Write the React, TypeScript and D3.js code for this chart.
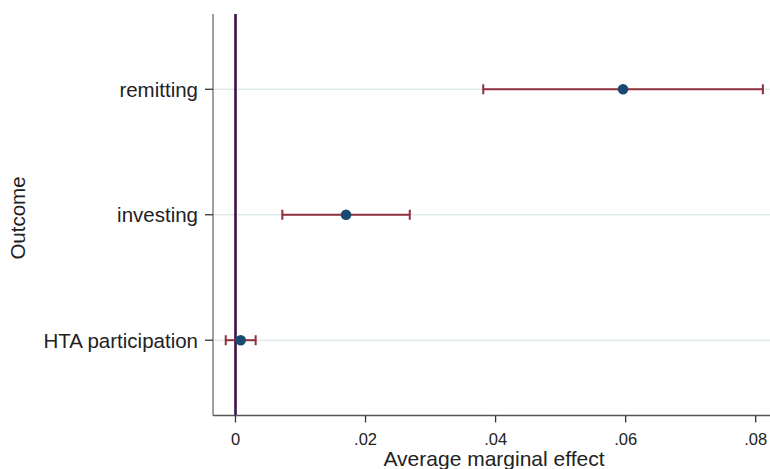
import React from "react";
import * as d3 from "d3";

const outcomes = ["HTA participation", "investing", "remitting"];
const estimates = [0.0008, 0.0170, 0.0596];
const lower = [-0.0015, 0.0072, 0.0381];
const upper = [0.0031, 0.0268, 0.0811];
const xTicks = [0, 0.02, 0.04, 0.06, 0.08];
const xTickLabels = ["0", ".02", ".04", ".06", ".08"];

const W = 770, H = 469;
const left = 213, right = 770, top = 14, bottom = 415.5;

export default function App() {
  const x = d3.scaleLinear().domain([-0.00346, 0.0822]).range([left, right]);
  const y = d3.scaleLinear().domain([0.4, 3.6]).range([bottom, top]);
  const font = "'Liberation Sans', Arial, Helvetica, sans-serif";
  const ciColor = "#8e2f3b";
  const ptColor = "#1a4a72";
  return (
    <svg width={W} height={H} style={{ position: "absolute", left: 0, top: 0, fontFamily: font }}>
      <rect x={0} y={0} width={W} height={H} fill="#ffffff" />
      {outcomes.map((o, i) => (
        <line key={"g" + o} x1={left} x2={right} y1={y(i + 1)} y2={y(i + 1)} stroke="#dfe9eb" strokeWidth={1.5} />
      ))}
      <line x1={x(0)} x2={x(0)} y1={top} y2={bottom} stroke="#3b1246" strokeWidth={2.6} />
      {outcomes.map((o, i) => {
        const cy = y(i + 1);
        return (
          <g key={o}>
            <line x1={x(lower[i])} x2={x(upper[i])} y1={cy} y2={cy} stroke={ciColor} strokeWidth={2} />
            <line x1={x(lower[i])} x2={x(lower[i])} y1={cy - 5} y2={cy + 5} stroke={ciColor} strokeWidth={2} />
            <line x1={x(upper[i])} x2={x(upper[i])} y1={cy - 5} y2={cy + 5} stroke={ciColor} strokeWidth={2} />
            <circle cx={x(estimates[i])} cy={cy} r={5.3} fill={ptColor} />
          </g>
        );
      })}
      <line x1={left} x2={left} y1={top} y2={bottom} stroke="#6e6e6e" strokeWidth={1.3} />
      <line x1={left} x2={right} y1={bottom} y2={bottom} stroke="#555555" strokeWidth={1.3} />
      {outcomes.map((o, i) => (
        <g key={"t" + o}>
          <line x1={left - 8} x2={left} y1={y(i + 1)} y2={y(i + 1)} stroke="#333" strokeWidth={1.3} />
          <text x={left - 15} y={y(i + 1)} dy="0.36em" textAnchor="end" fontSize={20.5} fill="#222">{o}</text>
        </g>
      ))}
      {xTicks.map((t, i) => (
        <g key={"x" + t}>
          <line x1={x(t)} x2={x(t)} y1={bottom} y2={bottom + 7} stroke="#333" strokeWidth={1.3} />
          <text x={x(t)} y={bottom + 29} textAnchor="middle" fontSize={16.5} fill="#222">{xTickLabels[i]}</text>
        </g>
      ))}
      <text x={494} y={466} textAnchor="middle" fontSize={21} fill="#222">Average marginal effect</text>
      <text transform={`translate(25, 218) rotate(-90)`} textAnchor="middle" fontSize={20.5} fill="#222">Outcome</text>
    </svg>
  );
}
